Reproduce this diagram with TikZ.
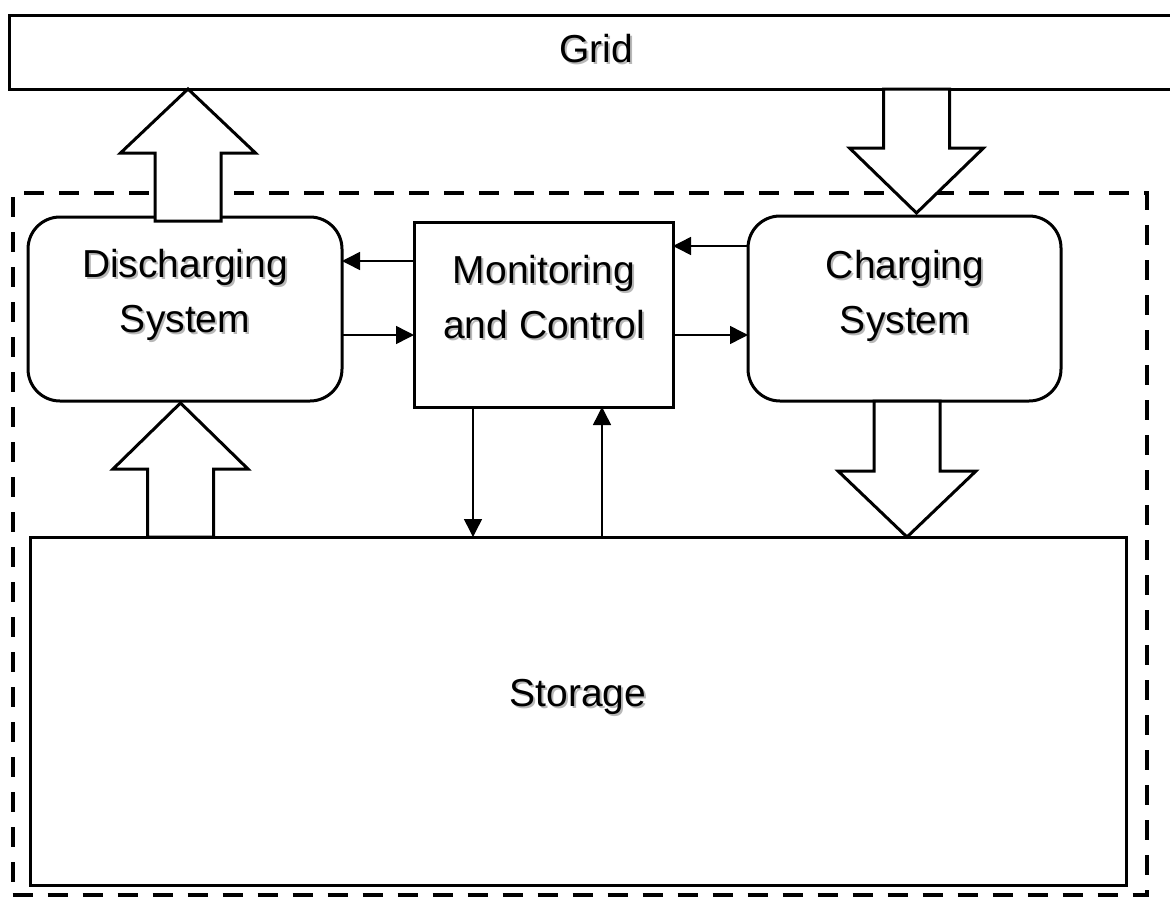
\documentclass[tikz,border=0pt]{standalone}
\usepackage{fontspec}
\setmainfont{Liberation Sans}
\usetikzlibrary{arrows.meta,calc}
\newcommand\shd[1]{\rlap{\hspace{2pt}\raisebox{-2pt}[0pt][0pt]{\color{black!28}#1}}#1}
\newcommand\blockv[6]{%
  \draw[blk] (#1,#2) -- ({#1+#5},#3) -- ({#1+#6},#3) -- ({#1+#6},#4)
    -- ({#1-#6},#4) -- ({#1-#6},#3) -- ({#1-#5},#3) -- cycle;}
\begin{document}
\begin{tikzpicture}[x=1pt,y=-1pt,
  box/.style={draw=black,line width=3pt,fill=white,rectangle,outer sep=0pt,inner sep=0pt},
  rbox/.style={box,rounded corners=32pt},
  dbox/.style={draw=black,line width=4pt,dash pattern=on 20pt off 15pt,rectangle,outer sep=0pt,inner sep=0pt},
  txt/.style={font=\fontsize{39}{55}\selectfont,align=center,inner sep=0pt,text=black},
  sig/.style={draw=black,line width=1.5pt,-{Triangle[length=18pt,width=18pt]}},
  blk/.style={draw=black,line width=3pt,fill=white,line join=miter}]
\useasboundingbox (0,0) rectangle (1170,897);
\fill[white] (0,0) rectangle (1170,897);
% boxes
\node[box,minimum width=1163pt,minimum height=74pt] (grid) at (590.5,52) {};
\node[dbox,minimum width=1134.5pt,minimum height=702pt] (sys) at (579.75,544) {};
\node[rbox,minimum width=314pt,minimum height=184pt] (dis) at (185,309) {};
\node[box,minimum width=259pt,minimum height=185pt] (mc) at (543.5,314.5) {};
\node[rbox,minimum width=313pt,minimum height=185pt] (ch) at (904.5,308.5) {};
\node[box,minimum width=1096pt,minimum height=348pt] (sto) at (578,711) {};
% texts
\node[txt] (gridt) at (596,49) {\shd{Grid}};
\node[txt] (dist) at (185,295.1) {\shd{Discharging}\\\shd{System}};
\node[txt] (mct) at (544,296.7) {\shd{Monitoring}\\\shd{and Control}};
\node[txt] (cht) at (905,295.6) {\shd{Charging}\\\shd{System}};
\node[txt] (stot) at (578,697.1) {\shd{Storage}};
% block arrows
\blockv{188}{89}{153}{221}{67.5}{33}
\blockv{916.5}{213}{148}{89}{67}{33}
\blockv{180.5}{403}{469}{537}{67.5}{33}
\blockv{907}{537}{471}{401}{69}{33}
% signal arrows
\coordinate (r1) at (0,261);
\coordinate (r2) at (0,335);
\coordinate (r3) at (0,246);
\coordinate (c1) at (473,0);
\coordinate (c2) at (602,0);
\draw[sig] (mc.west |- r1) -- (dis.east |- r1);
\draw[sig] (dis.east |- r2) -- (mc.west |- r2);
\draw[sig] (ch.west |- r3) -- (mc.east |- r3);
\draw[sig] (mc.east |- r2) -- (ch.west |- r2);
\draw[sig] (mc.south -| c1) -- (sto.north -| c1);
\draw[sig] (sto.north -| c2) -- (mc.south -| c2);
\end{tikzpicture}
\end{document}
